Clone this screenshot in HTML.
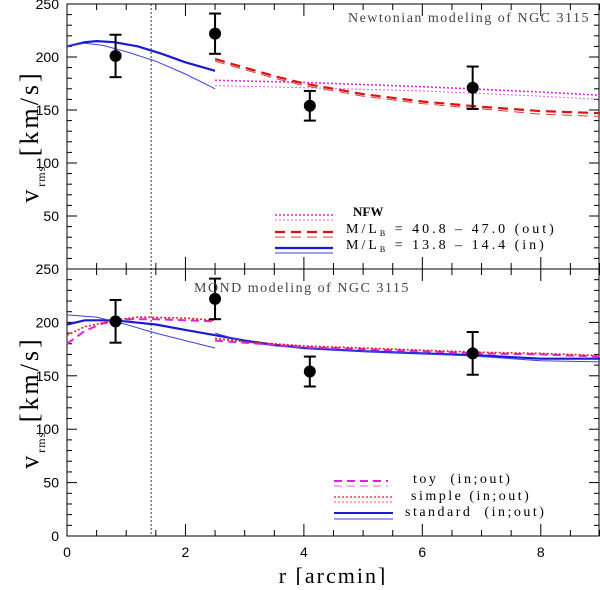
<!DOCTYPE html>
<html><head><meta charset="utf-8"><style>
body{margin:0;background:#fff}
svg text{font-family:"Liberation Sans",sans-serif}
</style></head><body>
<svg id="c" width="600" height="585" xmlns="http://www.w3.org/2000/svg">
<g id="g"></g>
</svg>
<script>
const pointR=[0.82,2.5,4.1,6.85];
const pointV=[201,222,154,171];
const pointErr=[20,19,14,20];
const topInThickR=[0,0.3,0.5,0.8,1.2,1.6,2,2.5];
const topInThickV=[210,214,215,214,210,203,195,187];
const topInThinR=[0,0.3,0.6,1,1.5,2,2.5];
const topInThinV=[210,213,211,205,196,184,170];
const nfwR=[2.5,4,6,8,9];
const nfwThickV=[178,176,172,167,164];
const nfwThinV=[173,171,168,163,160];
const outR=[2.5,3,3.5,4,5,6,7,8,9];
const outThickV=[198,190,182,175,165,158,153,149,147];
const outThinV=[196,188,180,173,163,156,151,146,144];
const botInR=[0,0.3,0.8,1.5,2,2.5];
const stdInThickV=[198,202,202,198,193,188];
const stdInThinR=[0,0.5,1,1.5,2,2.5];
const stdInThinV=[207,205,198,190,183,176];
const botOutR=[2.5,3,3.5,4,5,6,7,8,9];
const stdOutThickV=[188,183,179,176,173,171,169,166,166];
const stdOutThinV=[190,182,178,176,173,171,168,164,163];
const toyInR=[0,0.3,0.6,1,1.5,2,2.5];
const toyInV=[180,192,199,203,203,202,201];
const simInR=[0,0.3,0.8,1.2,2,2.5];
const simInV=[188,196,202,205,204,202];
const toyOutV=[183,181,179,177,175,173,171,170,168];
const simOutV=[185,182,180,178,176,174,172,171,169];
const xTicks=[0,2,4,6,8];
const yTicks=[0,50,100,150,200,250];

const NS="http://www.w3.org/2000/svg";
const g=document.getElementById('g');
const X0=67,X1=600,T0=4,B0=269,T1=269,B1=536;
const sx=r=>X0+r*(X1-X0)/9;
const syT=v=>B0-v*(B0-T0)/250;
const syB=v=>B1-v*(B1-T1)/250;
function el(tag,at,name){const e=document.createElementNS(NS,tag);for(const k in at)e.setAttribute(k,at[k]);


g.appendChild(e);return e;}
function line(rs,vs,sy,col,w,dash,name){const d=rs.map((r,i)=>(i?'L':'M')+sx(r).toFixed(1)+','+sy(vs[i]).toFixed(1)).join('');
const a={d:d,fill:'none',stroke:col,'stroke-width':w};if(dash)a['stroke-dasharray']=dash;return el('path',a,name);}
function txt(x,y,s,sz,anc,name,col,fam){const t=el('text',{x:x,y:y,'font-size':sz,'text-anchor':anc||'start',fill:col||'#000'},name);if(fam)t.setAttribute('style','font-family:'+fam);t.textContent=s;return t;}

el('rect',{x:X0,y:T0,width:X1-X0-1,height:B1-T0,fill:'none',stroke:'#000','stroke-width':1},'plot-frame');
el('line',{x1:X0,y1:B0,x2:X1,y2:B0,stroke:'#000'},'panel-divider');
[[syT,T0,B0],[syB,T1,B1]].forEach(([sy,t,b],p)=>{
 for(let v=0;v<=250;v+=10){const big=v%50==0;el('line',{x1:X0,y1:sy(v),x2:X0+(big?10:5),y2:sy(v),stroke:'#000'},'y-tick');el('line',{x1:X1-1,y1:sy(v),x2:X1-1-(big?10:5),y2:sy(v),stroke:'#000'},'y-tick');}
 for(let r=0;r<=9;r+=0.5){const big=r%2==0;el('line',{x1:sx(r),y1:b,x2:sx(r),y2:b-(big?12:6),stroke:'#000'},'x-tick');el('line',{x1:sx(r),y1:t,x2:sx(r),y2:t+(big?12:6),stroke:'#000'},'x-tick');}
 yTicks.forEach(v=>{if(p==0&&v==0)return;txt(X0-8,sy(v)+5,String(v),14,'end','y-tick-label');});
});
xTicks.forEach(r=>txt(sx(r),557,String(r),14,'middle','x-tick-label'));
txt(333,583,'r [arcmin]',22,'middle','x-axis-title','#000','"Liberation Serif",serif').setAttribute('letter-spacing','2');
[[syT(125),'top'],[syB(125),'bottom']].forEach(([y,n])=>{const t=txt(0,0,'',26,'middle','y-axis-title-'+n,'#000','"Liberation Serif",serif');
t.setAttribute('transform','translate(38,'+y+') rotate(-90)');t.setAttribute('letter-spacing','3');
t.innerHTML='v<tspan font-size="12" dy="7" letter-spacing="1">rms</tspan><tspan dy="-7"> [km/s]</tspan>';});
el('line',{x1:sx(1.42),y1:T0,x2:sx(1.42),y2:B1,stroke:'#000','stroke-dasharray':'2,2','stroke-width':0.8},'vertical-reference-line');

line(topInThickR,topInThickV,syT,'#1a1ad0',2.2,null,'newton-in-thick');
line(topInThinR,topInThinV,syT,'#4040e0',1,null,'newton-in-thin');
line(nfwR,nfwThickV,syT,'#e020e0',1.6,'2,2','nfw-thick');
line(nfwR,nfwThinV,syT,'#e060e0',1,'2,2','nfw-thin');
line(outR,outThickV,syT,'#e01010',2.2,'10,6','newton-out-thick');
line(outR,outThinV,syT,'#e04040',1,'10,6','newton-out-thin');
line(botInR,stdInThickV,syB,'#1a1ad0',2.2,null,'standard-in-thick');
line(stdInThinR,stdInThinV,syB,'#4040e0',1,null,'standard-in-thin');
line(botOutR,stdOutThickV,syB,'#1a1ad0',2.2,null,'standard-out-thick');
line(botOutR,stdOutThinV,syB,'#4040e0',1,null,'standard-out-thin');
line(toyInR,toyInV,syB,'#e020e0',2,'8,5','toy-in');
line(simInR,simInV,syB,'#e02020',1.6,'2,2','simple-in');
line(botOutR,toyOutV,syB,'#e020e0',2,'8,5','toy-out');
line(botOutR,simOutV,syB,'#e02020',1.6,'2,2','simple-out');

[syT,syB].forEach((sy,p)=>pointR.forEach((r,i)=>{const x=sx(r);
 el('line',{x1:x,y1:sy(pointV[i]-pointErr[i]),x2:x,y2:sy(pointV[i]+pointErr[i]),stroke:'#000','stroke-width':2},'error-bar');
 [pointV[i]-pointErr[i],pointV[i]+pointErr[i]].forEach(v=>el('line',{x1:x-6,y1:sy(v),x2:x+6,y2:sy(v),stroke:'#000','stroke-width':2},'error-cap'));
 el('circle',{cx:x,cy:sy(pointV[i]),r:6,fill:'#000'},'data-point');}));

txt(590,22,'Newtonian modeling of NGC 3115',14,'end','top-panel-title','#444','"Liberation Serif",serif').setAttribute('letter-spacing','1.5');
txt(194,292,'MOND modeling of NGC 3115',14,'start','bottom-panel-title','#444','"Liberation Serif",serif').setAttribute('letter-spacing','1.5');
el('line',{x1:275,y1:215,x2:333,y2:215,stroke:'#e020e0','stroke-width':1.6,'stroke-dasharray':'2,2'},'legend-nfw');
el('line',{x1:275,y1:220,x2:333,y2:220,stroke:'#e060e0','stroke-width':1,'stroke-dasharray':'2,2'},'legend-nfw');
el('line',{x1:275,y1:232,x2:333,y2:232,stroke:'#e01010','stroke-width':2.2,'stroke-dasharray':'10,6'},'legend-out');
el('line',{x1:275,y1:237,x2:333,y2:237,stroke:'#e04040','stroke-width':1,'stroke-dasharray':'10,6'},'legend-out');
el('line',{x1:275,y1:248,x2:333,y2:248,stroke:'#1a1ad0','stroke-width':2.2},'legend-in');
el('line',{x1:275,y1:253,x2:333,y2:253,stroke:'#4040e0','stroke-width':1},'legend-in');
const ls='"Liberation Serif",serif';
txt(353,216,'NFW',13,'start','legend-nfw-label','#000',ls).setAttribute('font-weight','bold');
let t=txt(346,233,'',14,'start','legend-out-label','#000',ls);t.innerHTML='M/L<tspan font-size="8" dy="3">B</tspan><tspan dy="-3"> = 40.8 – 47.0 (out)</tspan>';t.setAttribute('letter-spacing','3');
t=txt(346,249,'',14,'start','legend-in-label','#000',ls);t.innerHTML='M/L<tspan font-size="8" dy="3">B</tspan><tspan dy="-3"> = 13.8 – 14.4 (in)</tspan>';t.setAttribute('letter-spacing','3');
el('line',{x1:334,y1:481,x2:388,y2:481,stroke:'#e020e0','stroke-width':2,'stroke-dasharray':'8,5'},'legend-toy');
el('line',{x1:334,y1:486,x2:388,y2:486,stroke:'#e060e0','stroke-width':1,'stroke-dasharray':'8,5'},'legend-toy');
el('line',{x1:334,y1:497,x2:393,y2:497,stroke:'#e02020','stroke-width':1.2,'stroke-dasharray':'2,2'},'legend-simple');
el('line',{x1:334,y1:502,x2:393,y2:502,stroke:'#e06060','stroke-width':1,'stroke-dasharray':'2,2'},'legend-simple');
el('line',{x1:334,y1:513,x2:393,y2:513,stroke:'#1a1ad0','stroke-width':2},'legend-standard');
el('line',{x1:334,y1:519,x2:393,y2:519,stroke:'#4040e0','stroke-width':1},'legend-standard');
[['toy  (in;out)',413,483],['simple (in;out)',411,500],['standard  (in;out)',405,516]].forEach((a,i)=>{const tt=txt(a[1],a[2],a[0],14,'start','legend-label-'+i,'#000',ls);tt.setAttribute('letter-spacing','2.5');tt.style.whiteSpace='pre';});
</script>
</body></html>
